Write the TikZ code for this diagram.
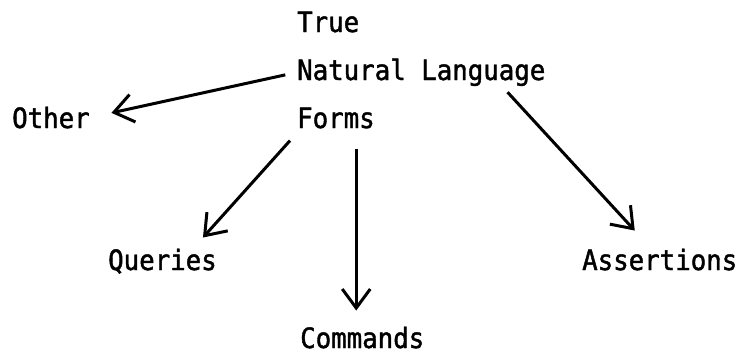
\documentclass[tikz,border=0pt]{standalone}
\usepackage{fontspec}
\setmonofont[FakeStretch=0.92,FakeBold=1.5]{DejaVu Sans Mono}
\usetikzlibrary{arrows.meta}
\begin{document}
\begin{tikzpicture}[x=1pt,y=-1pt,
    word/.style={anchor=base west, inner sep=0pt, font=\ttfamily\fontsize{28}{32}\selectfont},
    arr/.style={line width=3pt, -{Straight Barb[length=19pt,width=28pt,line width=3pt]}}]
            \useasboundingbox (0,0) rectangle (743,354);
            \node [word] (T) at (297,32) {True};
            \node [word] (N) at (297,80) {Natural Language};
            \node [word] (F) at (297,128) {Forms};
            
            \node [word] (O) at (12,128) {Other};
            \node [word] (Q) at (108,270) {Queries};
            \node [word] (C) at (300,348) {Commands};
            \node [word] (A) at (582,270) {Assertions};
            
            \coordinate (Ctip) at ([xshift=-6pt,yshift=16pt]C.north);
            
            \draw [arr, shorten <=12pt, shorten >=22pt] (N.west) -- (O.east);
            \draw [arr] ([xshift=-7pt,yshift=-12pt]F.south west) -- ([xshift=-14pt,yshift=11pt]Q.north east);
            \draw [arr] ([yshift=-20pt]F.south -| Ctip) -- (Ctip);
            \draw [arr] ([xshift=-38pt,yshift=-6pt]N.south east) -- ([xshift=-25pt,yshift=18pt]A.north);
        \end{tikzpicture}
\end{document}
